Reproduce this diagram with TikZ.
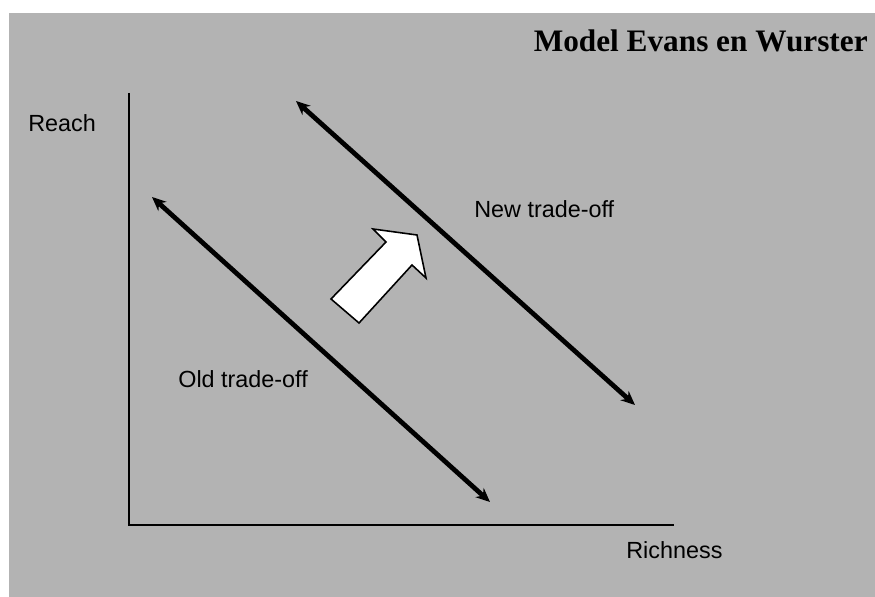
\documentclass[tikz,border=0pt]{standalone}
\usepackage{fontspec}
\setmainfont{Liberation Sans}
\newfontfamily\titlefont{Liberation Serif}
\usetikzlibrary{arrows.meta}
\definecolor{bggray}{RGB}{179,179,179}
\tikzset{
  axisline/.style={line width=1.3pt},
  tradeoff/.style={line width=2.7pt,{Stealth[length=8pt,width=7pt]}-{Stealth[length=8pt,width=7pt]}},
  lbl/.style={font=\fontsize{13.3}{15}\selectfont,inner sep=0pt}
}
\begin{document}
\begin{tikzpicture}[x=0.02cm,y=-0.02cm]
		\useasboundingbox (0,0) rectangle (875,597);
		\fill[bggray] (9,13) rectangle (875,597);
		% axes
		\coordinate (ytop) at (129,93);
		\coordinate (O) at (129,525);
		\coordinate (xend) at (674,525);
		\draw[axisline] (ytop) -- (O) -- (xend);
		\node[lbl,anchor=base west] (reach) at (28,132) {Reach};
		\node[lbl,anchor=base west] (richness) at (626,558) {Richness};
		% trade-off lines
		\coordinate (oldA) at (152,197);
		\coordinate (oldB) at (490,502);
		\coordinate (newA) at (296,101);
		\coordinate (newB) at (635,405);
		\draw[tradeoff] (oldA) -- (oldB);
		\draw[tradeoff] (newA) -- (newB);
		\node[lbl,anchor=base west] (old) at (178,388) {Old trade-off};
		\node[lbl,anchor=base west] (new) at (474,218) {New trade-off};
		% shift arrow
		\draw[fill=white,line width=0.9pt,line join=miter]
		(331,299) -- (386,242) -- (373,229) -- (417,235)
		-- (426,278) -- (412,265) -- (359,323) -- cycle;
		\node[anchor=base east,inner sep=0pt,font=\titlefont\bfseries\fontsize{17.8}{20}\selectfont] (title) at (868,52)
		{Model Evans en Wurster};
	\end{tikzpicture}
\end{document}
